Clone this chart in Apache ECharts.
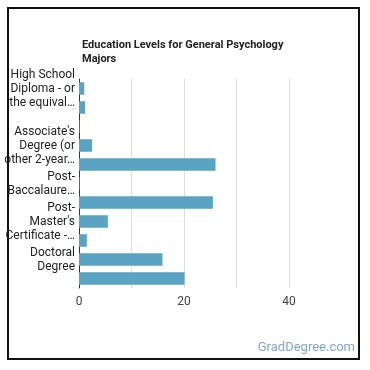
<!DOCTYPE html>
<html>
<head>
<meta charset="utf-8">
<script src="https://cdn.jsdelivr.net/npm/echarts@6/dist/echarts.min.js"></script>
<style>
  html, body { margin: 0; padding: 0; background: #fff; }
  #chart { width: 370px; height: 370px; }
</style>
</head>
<body>
<div id="chart"></div>
<script>
// education levels, top to bottom
var categories = [
  'High School Diploma - or the equivalent',
  'Post-Secondary Certificate',
  'Some College Courses',
  "Associate's Degree (or other 2-year degree)",
  "Bachelor's Degree",
  'Post-Baccalaureate Certificate',
  "Master's Degree",
  "Post-Master's Certificate",
  'First Professional Degree',
  'Doctoral Degree',
  'Post-Doctoral Training'
];
// wrapped labels as shown (empty = not shown)
var labelLines = [
  'High School\nDiploma - or\nthe equival\u2026',
  '',
  '',
  "Associate's\nDegree (or\nother 2-year\u2026",
  '',
  'Post-\nBaccalaure\u2026',
  '',
  "Post-\nMaster's\nCertificate -\u2026",
  '',
  'Doctoral\nDegree',
  ''
];
var percents = [1.0, 1.15, 0.1, 2.5, 26.0, 0.1, 25.5, 5.5, 1.5, 15.9, 20.1];
var xTicks = [0, 20, 40];

var myChart = echarts.init(document.getElementById('chart'));
var option = {
  backgroundColor: '#fff',
  animation: false,
  textStyle: { fontFamily: 'Roboto' },
  title: [
    {
      text: 'Education Levels for General Psychology\nMajors',
      left: 77,
      top: 33,
      textStyle: { fontSize: 11, fontWeight: 'bold', color: '#222', lineHeight: 14, fontFamily: 'Roboto' }
    },
    {
      text: 'GradDegree.com',
      right: 10,
      top: 336,
      textStyle: { fontSize: 13, fontWeight: 'normal', color: '#7fa9c2', fontFamily: 'Roboto' }
    }
  ],
  graphic: [
    {
      type: 'rect',
      shape: { x: 8, y: 8, width: 351, height: 351 },
      style: { fill: 'none', stroke: '#111', lineWidth: 2 },
      silent: true
    }
  ],
  grid: { left: 79, right: 81, top: 79, bottom: 82 },
  xAxis: {
    type: 'value',
    min: 0,
    max: 40,
    interval: 10,
    axisLine: { show: false },
    axisTick: { show: false },
    splitLine: { lineStyle: { color: '#ddd', width: 1 } },
    axisLabel: {
      color: '#444',
      fontSize: 12,
      margin: 8,
      formatter: function (v) { return xTicks.indexOf(v) >= 0 ? String(v) : ''; }
    }
  },
  yAxis: {
    type: 'category',
    inverse: true,
    data: categories,
    axisLine: { show: true, lineStyle: { color: '#333', width: 1 } },
    axisTick: { show: false },
    axisLabel: {
      color: '#222',
      fontSize: 12,
      lineHeight: 14,
      margin: 4,
      interval: function (i) { return labelLines[i] !== ''; },
      formatter: function (v, i) { return labelLines[i]; }
    }
  },
  series: [
    {
      name: 'Percent',
      type: 'bar',
      data: percents,
      barWidth: 12.5,
      itemStyle: { color: '#5ba3c2' }
    }
  ]
};
myChart.setOption(option);
</script>
</body>
</html>
